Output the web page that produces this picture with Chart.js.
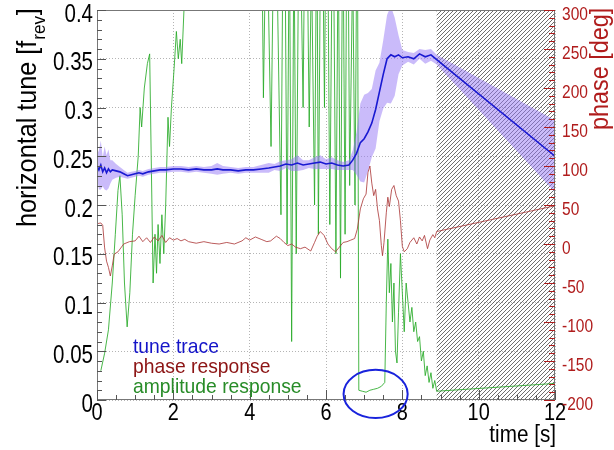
<!DOCTYPE html>
<html lang="en">
<head>
<meta charset="utf-8">
<script src="https://cdn.jsdelivr.net/npm/chart.js"></script>
<style>
  body { margin: 0; background: #fff; }
  #wrap { width: 614px; height: 450px; }
</style>
</head>
<body>
<div id="wrap"><canvas id="tuneChart" width="614" height="450"></canvas></div>
<script>
// tune trace (left axis, fraction of f_rev) with its error band
const tuneTime = [0,0.05,0.1,0.15,0.2,0.25,0.3,0.35,0.4,0.5,0.6,0.7,0.8,0.9,1.0,1.1,1.2,1.35,1.5,1.65,1.8,2.0,2.2,2.4,2.6,2.8,3.0,3.15,3.3,3.5,3.7,3.9,4.1,4.3,4.5,4.65,4.8,4.95,5.1,5.25,5.4,5.55,5.7,5.85,6.0,6.15,6.3,6.45,6.6,6.7,6.8,6.9,7.0,7.1,7.2,7.3,7.4,7.5,7.6,7.7,7.8,7.9,8.0,8.15,8.3,8.45,8.6,8.75,8.9,12];
const tuneValue = [0.240,0.236,0.241,0.234,0.238,0.233,0.237,0.234,0.236,
  0.235,0.234,0.232,0.230,0.231,0.232,0.233,0.232,
  0.234,0.235,0.236,0.236,
  0.237,0.237,0.236,0.237,0.236,0.236,
  0.237,0.236,
  0.236,0.235,0.236,0.236,0.237,0.238,
  0.239,0.240,0.242,0.241,0.243,0.241,0.242,0.243,0.244,0.242,0.243,0.241,0.240,0.241,
  0.246,0.253,0.264,0.268,0.275,0.284,0.298,0.316,0.334,0.350,0.354,0.352,0.354,0.351,
  0.352,0.350,0.355,0.352,0.354,0.349,
  0.250];
const tuneError = [0.012,0.020,0.025,0.015,0.022,0.018,0.020,0.012,0.010,
  0.007,0.005,0.004,0.003,0.003,0.003,0.003,0.003,
  0.003,0.003,0.003,0.003,
  0.003,0.003,0.003,0.003,0.003,0.004,
  0.006,0.004,
  0.003,0.003,0.003,0.003,0.004,0.005,
  0.003,0.005,0.004,0.006,0.008,0.005,0.004,0.006,0.007,0.005,0.006,0.005,0.004,0.005,
  0.010,0.022,0.040,0.045,0.040,0.035,0.040,0.030,0.035,0.045,0.050,0.040,0.020,0.008,
  0.005,0.006,0.005,0.007,0.006,0.005,
  0.037];

// phase response (right axis, degrees)
const phaseTime = [0,0.1,0.15,0.2,0.25,0.3,0.35,0.4,0.45,0.55,0.7,0.85,1.0,1.1,1.2,1.3,1.4,1.5,1.6,1.7,1.8,1.9,2.0,2.1,2.2,2.3,2.4,2.6,2.8,3.0,3.2,3.4,3.6,3.8,3.9,4.0,4.15,4.3,4.45,4.55,4.7,4.8,4.9,5.0,5.1,5.2,5.33,5.45,5.6,5.7,5.77,5.85,5.95,6.05,6.15,6.25,6.35,6.45,6.55,6.65,6.75,6.82,6.9,6.98,7.05,7.1,7.15,7.2,7.25,7.3,7.35,7.4,7.45,7.48,7.52,7.58,7.62,7.66,7.72,7.78,7.84,7.9,7.95,8.0,8.05,8.13,8.2,8.3,8.38,8.45,8.52,8.58,8.66,8.72,8.8,8.85,8.9,12];
const phaseValue = [26,27,24,-5,-22,-30,-41,-28,-13,-10,0,3,4,10,3,8,2,9,4,11,2,8,5,7,4,6,3,1,3,1,0,2,0,4,8,5,9,6,3,4,10,7,2,-2,0,-4,-6,-4,-9,2,10,16,11,0,-6,-10,-4,2,3,5,7,19,45,58,64,92,100,78,62,70,45,30,-2,-15,2,40,60,48,70,75,62,55,30,-3,-10,-6,2,8,0,9,4,11,-6,5,12,8,16,49];

// amplitude response (left axis scale)
const ampTime = [0.10,0.20,0.30,0.40,0.48,0.55,0.60,0.66,0.72,0.79,0.86,0.93,1.00,1.08,1.13,1.17,1.24,1.32,1.38,1.42,1.47,1.52,1.56,1.60,1.65,1.70,1.75,1.80,1.86,1.90,1.95,2.02,2.08,2.13,2.18,2.22,2.30,2.40,3.40,4.20,4.30,4.36,4.44,4.56,4.66,4.82,4.90,4.98,5.04,5.10,5.16,5.22,5.30,5.40,5.47,5.56,5.62,5.70,5.76,5.80,5.88,5.96,6.02,6.10,6.18,6.26,6.32,6.38,6.44,6.50,6.56,6.62,6.70,6.76,6.82,6.86,6.95,7.05,7.15,7.25,7.35,7.45,7.54,7.58,7.62,7.66,7.70,7.74,7.78,7.82,7.86,7.90,7.95,8.00,8.05,8.10,8.15,8.20,8.25,8.30,8.35,8.40,8.45,8.50,8.55,8.60,8.65,8.70,8.75,8.80,8.85,8.90,12.0];
const ampValue = [0.030,0.048,0.072,0.120,0.170,0.215,0.230,0.190,0.120,0.075,0.110,0.170,0.210,0.250,0.300,0.280,0.320,0.345,0.355,0.250,0.120,0.170,0.130,0.180,0.140,0.190,0.150,0.200,0.290,0.260,0.300,0.340,0.378,0.350,0.370,0.345,0.420,0.600,0.700,0.650,0.550,0.310,0.520,0.260,0.580,0.190,0.620,0.160,0.500,0.060,0.480,0.150,0.550,0.300,0.600,0.280,0.450,0.200,0.520,0.170,0.600,0.300,0.620,0.180,0.550,0.150,0.480,0.125,0.520,0.170,0.600,0.220,0.450,0.200,0.550,0.010,0.009,0.008,0.010,0.011,0.012,0.014,0.018,0.100,0.165,0.110,0.140,0.080,0.120,0.050,0.038,0.090,0.150,0.110,0.070,0.120,0.100,0.080,0.095,0.070,0.080,0.060,0.065,0.040,0.050,0.025,0.035,0.018,0.028,0.012,0.020,0.009,0.017];

// axis tick labels
const xTicks = [0, 2, 4, 6, 8, 10, 12];
const leftTicks = [0, 0.05, 0.1, 0.15, 0.2, 0.25, 0.3, 0.35, 0.4];
const rightTicks = [-200, -150, -100, -50, 0, 50, 100, 150, 200, 250, 300];

const legendLabels = ['tune trace', 'phase response', 'amplitude response'];
const legendColors = ['rgb(20,20,200)', 'rgb(140,20,20)', 'rgb(40,140,40)'];

// extrapolated part (hatched) and the marked flat region
const hatchFrom = 8.9, hatchTo = 12;
const markTime = 7.3, markValue = 0.0062, markHalfTime = 0.84, markHalfValue = 0.0247;

const FONT = '"Liberation Sans", Arial, sans-serif';
const RED = 'rgb(176,28,28)';

function pts(t, v) {
  return t.map((x, i) => ({ x: x, y: v[i] }));
}

function text(ctx, s, x, y, size, color, align, sx) {
  ctx.save();
  ctx.translate(x, y);
  ctx.scale(sx, 1);
  ctx.font = size + 'px ' + FONT;
  ctx.fillStyle = color;
  ctx.textAlign = align;
  ctx.textBaseline = 'alphabetic';
  ctx.fillText(s, 0, 0);
  ctx.restore();
}

function hatchPattern(ctx) {
  const c = document.createElement('canvas');
  c.width = 4; c.height = 4;
  const p = c.getContext('2d');
  p.strokeStyle = '#4a4a4a';
  p.lineWidth = 0.8;
  p.beginPath();
  p.moveTo(-1, 1); p.lineTo(1, -1);
  p.moveTo(0, 4); p.lineTo(4, 0);
  p.moveTo(3, 5); p.lineTo(5, 3);
  p.stroke();
  return ctx.createPattern(c, 'repeat');
}

const rootStyle = {
  id: 'rootStyle',
  beforeDatasetsDraw(chart) {
    const { ctx, chartArea: a, scales } = chart;
    const x0 = scales.x.getPixelForValue(hatchFrom);
    const x1 = scales.x.getPixelForValue(hatchTo);
    ctx.save();
    ctx.fillStyle = hatchPattern(ctx);
    ctx.fillRect(x0, a.top, x1 - x0, a.bottom - a.top);
    ctx.restore();
  },
  afterDatasetsDraw(chart) {
    const { ctx, chartArea: a, scales } = chart;
    const xs = scales.x, ys = scales.y, y2 = scales.y2;
    ctx.save();

    // frame
    ctx.strokeStyle = '#777';
    ctx.lineWidth = 1;
    ctx.strokeRect(Math.round(a.left) + 0.5, Math.round(a.top) + 0.5,
      Math.round(a.right - a.left) - 1, Math.round(a.bottom - a.top) - 1);

    // inward ticks
    ctx.beginPath();
    for (let i = 0; i <= 40; i++) {
      const y = Math.round(ys.getPixelForValue(i / 100)) + 0.5;
      const len = i % 5 === 0 ? 9 : 5;
      ctx.moveTo(a.left, y); ctx.lineTo(a.left + len, y);
    }
    for (let i = 0; i <= 24; i++) {
      const x = Math.round(xs.getPixelForValue(i / 2)) + 0.5;
      const len = i % 4 === 0 ? 10 : 5;
      ctx.moveTo(x, a.bottom); ctx.lineTo(x, a.bottom - len);
    }
    ctx.strokeStyle = '#555';
    ctx.stroke();
    ctx.beginPath();
    for (let d = -200; d <= 300; d += 10) {
      const y = Math.round(y2.getPixelForValue(d)) + 0.5;
      const len = d % 50 === 0 ? 11 : 6;
      ctx.moveTo(a.right, y); ctx.lineTo(a.right - len, y);
    }
    ctx.strokeStyle = RED;
    ctx.stroke();

    // tick labels
    leftTicks.forEach(v => text(ctx, String(v), 93, ys.getPixelForValue(v) + 11.5, 25, '#000', 'right', 0.82));
    xTicks.forEach(v => text(ctx, String(v), xs.getPixelForValue(v), 420, 24, '#000', 'center', 0.83));
    rightTicks.forEach(v => text(ctx, String(v), 562, y2.getPixelForValue(v) + 10, 18.5, RED, 'left', 0.84));

    // axis titles
    text(ctx, 'time [s]', 556, 442, 23, '#000', 'right', 0.9);

    ctx.save();
    ctx.translate(36, 227);
    ctx.rotate(-Math.PI / 2);
    ctx.scale(0.9, 1);
    ctx.fillStyle = '#000';
    ctx.textBaseline = 'alphabetic';
    ctx.font = '28px ' + FONT;
    const main = 'horizontal tune [f';
    ctx.fillText(main, 0, 0);
    let w = ctx.measureText(main).width + 1;
    ctx.font = '19px ' + FONT;
    ctx.fillText('rev', w, 9);
    w += ctx.measureText('rev').width + 1;
    ctx.font = '28px ' + FONT;
    ctx.fillText(']', w, 0);
    ctx.restore();

    ctx.save();
    ctx.translate(608, 130);
    ctx.rotate(-Math.PI / 2);
    ctx.scale(0.9, 1);
    ctx.fillStyle = RED;
    ctx.font = '26px ' + FONT;
    ctx.textBaseline = 'alphabetic';
    ctx.fillText('phase [deg]', 0, 0);
    ctx.restore();

    // legend
    legendLabels.forEach((s, i) => text(ctx, s, 133, 353 + i * 20, 21, legendColors[i], 'left', 0.92));

    // marker ellipse around the flat amplitude region
    const cx = xs.getPixelForValue(markTime);
    const cy = ys.getPixelForValue(markValue);
    const rx = xs.getPixelForValue(markTime + markHalfTime) - cx;
    const ry = cy - ys.getPixelForValue(markValue + markHalfValue);
    ctx.beginPath();
    ctx.ellipse(cx, cy, rx, ry, 0, 0, Math.PI * 2);
    ctx.strokeStyle = 'rgb(25,35,220)';
    ctx.lineWidth = 2;
    ctx.stroke();

    ctx.restore();
  }
};

const bandColor = 'rgba(150,120,245,0.5)';

new Chart(document.getElementById('tuneChart'), {
  type: 'line',
  data: {
    datasets: [
      { label: 'tune trace', data: pts(tuneTime, tuneValue), borderColor: 'rgb(25,25,210)', borderWidth: 1.6,
        pointRadius: 0, tension: 0, fill: false, yAxisID: 'y' },
      { label: 'band up', data: tuneTime.map((x, i) => ({ x: x, y: tuneValue[i] + tuneError[i] })),
        borderWidth: 0, pointRadius: 0, tension: 0, fill: '+1', backgroundColor: bandColor, yAxisID: 'y' },
      { label: 'band down', data: tuneTime.map((x, i) => ({ x: x, y: tuneValue[i] - tuneError[i] })),
        borderWidth: 0, pointRadius: 0, tension: 0, fill: false, yAxisID: 'y' },
      { label: 'phase response', data: pts(phaseTime, phaseValue), borderColor: 'rgb(170,50,50)', borderWidth: 0.8,
        pointRadius: 0, tension: 0, fill: false, yAxisID: 'y2' },
      { label: 'amplitude response', data: pts(ampTime, ampValue), borderColor: 'rgba(40,170,40,0.85)', borderWidth: 1,
        pointRadius: 0, tension: 0, fill: false, yAxisID: 'y' }
    ]
  },
  options: {
    responsive: false,
    animation: false,
    devicePixelRatio: 1,
    layout: { padding: { top: 10, left: 0, right: 0, bottom: 0 } },
    plugins: { legend: { display: false }, tooltip: { enabled: false } },
    scales: {
      x: {
        type: 'linear', min: 0, max: 12,
        ticks: { display: false, stepSize: 2 },
        grid: { color: '#b4b4b4', lineWidth: 1, drawTicks: false },
        border: { display: false, dash: [1, 2] },
        afterFit: s => { s.height = 50; }
      },
      y: {
        type: 'linear', position: 'left', min: 0, max: 0.4,
        ticks: { display: false, stepSize: 0.05 },
        grid: { color: '#b4b4b4', lineWidth: 1, drawTicks: false },
        border: { display: false, dash: [1, 2] },
        afterFit: s => { s.width = 97; }
      },
      y2: {
        type: 'linear', position: 'right', min: -200, max: 300,
        ticks: { display: false, stepSize: 50 },
        grid: { display: false, drawTicks: false },
        border: { display: false },
        afterFit: s => { s.width = 59; }
      }
    }
  },
  plugins: [rootStyle]
});
</script>
</body>
</html>
